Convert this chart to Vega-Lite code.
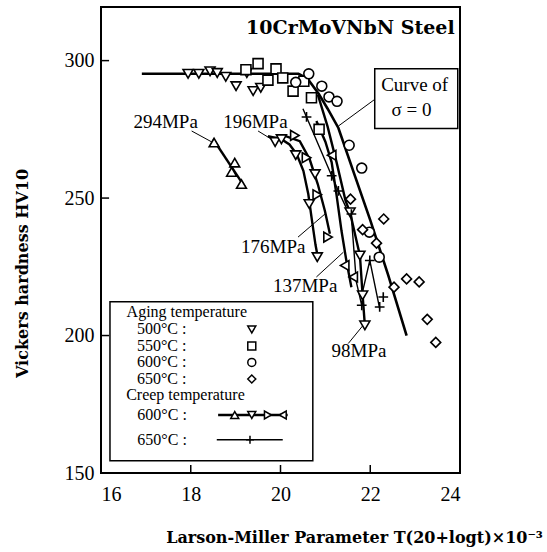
{
  "$schema": "https://vega.github.io/schema/vega-lite/v6.json",
  "width": 359,
  "height": 466,
  "autosize": {"type": "none"},
  "padding": {"left": 101, "top": 7, "right": 87, "bottom": 79},
  "background": "white",
  "config": {
    "view": {"stroke": "black", "strokeWidth": 2},
    "text": {"font": "Liberation Serif", "color": "black"},
    "axis": {
      "grid": false, "domain": false, "ticks": false,
      "labelFont": "Liberation Serif", "labelFontSize": 20, "labelColor": "black",
      "titleFont": "DejaVu Serif", "titleFontWeight": "bold", "titleFontSize": 16, "titleColor": "black"
    }
  },
  "datasets": {
    "boxes": [
      {"x": 16.2, "y": 212.3, "x2": 20.72, "y2": 154.5},
      {"x": 22.10, "y": 297.0, "x2": 23.95, "y2": 275.3}
    ],
    "ticks": [
      {"x": 18, "y": 150, "x2": 18, "y2": 152.9},
      {"x": 20, "y": 150, "x2": 20, "y2": 152.9},
      {"x": 22, "y": 150, "x2": 22, "y2": 152.9},
      {"x": 16, "y": 200, "x2": 16.18, "y2": 200},
      {"x": 16, "y": 250, "x2": 16.18, "y2": 250},
      {"x": 16, "y": 300, "x2": 16.18, "y2": 300}
    ],
    "arrows": [
      {"x": 18.02, "y": 274.4, "x2": 18.47, "y2": 270.4},
      {"x": 19.50, "y": 274.4, "x2": 19.86, "y2": 270.8},
      {"x": 20.39, "y": 235.8, "x2": 20.99, "y2": 244.2},
      {"x": 20.80, "y": 221.3, "x2": 21.40, "y2": 230.3},
      {"x": 21.51, "y": 197.1, "x2": 21.84, "y2": 203.7},
      {"x": 22.10, "y": 285.9, "x2": 21.29, "y2": 276.2}
    ],
    "lines": [
      {"id": "zero", "kind": "z", "o": 1, "x": 16.91, "y": 295.2},
      {"id": "zero", "kind": "z", "o": 2, "x": 20.40, "y": 295.2},
      {"id": "zero", "kind": "z", "o": 3, "x": 20.60, "y": 293.5},
      {"id": "zero", "kind": "z", "o": 4, "x": 20.85, "y": 288.0},
      {"id": "zero", "kind": "z", "o": 5, "x": 21.05, "y": 282.5},
      {"id": "zero", "kind": "z", "o": 6, "x": 21.29, "y": 275.5},
      {"id": "zero", "kind": "z", "o": 7, "x": 21.66, "y": 258.0},
      {"id": "zero", "kind": "z", "o": 8, "x": 22.00, "y": 242.0},
      {"id": "zero", "kind": "z", "o": 9, "x": 22.40, "y": 222.0},
      {"id": "zero", "kind": "z", "o": 10, "x": 22.81, "y": 200.0},
      {"id": "c294", "kind": "c600", "o": 1, "x": 18.50, "y": 271.4},
      {"id": "c294", "kind": "c600", "o": 2, "x": 19.21, "y": 253.9},
      {"id": "c196", "kind": "c600", "o": 1, "x": 19.72, "y": 272.5},
      {"id": "c196", "kind": "c600", "o": 2, "x": 20.02, "y": 271.4},
      {"id": "c196", "kind": "c600", "o": 3, "x": 20.20, "y": 269.5},
      {"id": "c196", "kind": "c600", "o": 4, "x": 20.36, "y": 266.0},
      {"id": "c196", "kind": "c600", "o": 5, "x": 20.51, "y": 259.9},
      {"id": "c196", "kind": "c600", "o": 6, "x": 20.62, "y": 251.4},
      {"id": "c196", "kind": "c600", "o": 7, "x": 20.70, "y": 242.0},
      {"id": "c196", "kind": "c600", "o": 8, "x": 20.78, "y": 233.0},
      {"id": "c196", "kind": "c600", "o": 9, "x": 20.82, "y": 229.5},
      {"id": "c176", "kind": "c600", "o": 1, "x": 20.10, "y": 272.6},
      {"id": "c176", "kind": "c600", "o": 2, "x": 20.43, "y": 270.7},
      {"id": "c176", "kind": "c600", "o": 3, "x": 20.65, "y": 264.1},
      {"id": "c176", "kind": "c600", "o": 4, "x": 20.83, "y": 255.1},
      {"id": "c176", "kind": "c600", "o": 5, "x": 20.99, "y": 245.3},
      {"id": "c176", "kind": "c600", "o": 6, "x": 21.10, "y": 237.0},
      {"id": "c137", "kind": "c600", "o": 1, "x": 20.80, "y": 278.0},
      {"id": "c137", "kind": "c600", "o": 2, "x": 21.00, "y": 270.5},
      {"id": "c137", "kind": "c600", "o": 3, "x": 21.14, "y": 263.0},
      {"id": "c137", "kind": "c600", "o": 4, "x": 21.25, "y": 251.0},
      {"id": "c137", "kind": "c600", "o": 5, "x": 21.36, "y": 238.0},
      {"id": "c137", "kind": "c600", "o": 6, "x": 21.47, "y": 227.0},
      {"id": "c137", "kind": "c600", "o": 7, "x": 21.58, "y": 217.6},
      {"id": "c98", "kind": "c600", "o": 1, "x": 20.83, "y": 287.7},
      {"id": "c98", "kind": "c600", "o": 2, "x": 21.05, "y": 276.0},
      {"id": "c98", "kind": "c600", "o": 3, "x": 21.25, "y": 263.0},
      {"id": "c98", "kind": "c600", "o": 4, "x": 21.45, "y": 249.0},
      {"id": "c98", "kind": "c600", "o": 5, "x": 21.55, "y": 244.8},
      {"id": "c98", "kind": "c600", "o": 6, "x": 21.70, "y": 234.0},
      {"id": "c98", "kind": "c600", "o": 7, "x": 21.77, "y": 229.1},
      {"id": "c98", "kind": "c600", "o": 8, "x": 21.83, "y": 214.6},
      {"id": "c98", "kind": "c600", "o": 9, "x": 21.88, "y": 203.7},
      {"id": "p137", "kind": "c650", "o": 1, "x": 20.50, "y": 282.5},
      {"id": "p137", "kind": "c650", "o": 2, "x": 20.58, "y": 279.5},
      {"id": "p137", "kind": "c650", "o": 3, "x": 21.14, "y": 258.1},
      {"id": "p137", "kind": "c650", "o": 4, "x": 21.29, "y": 252.6},
      {"id": "p137", "kind": "c650", "o": 5, "x": 21.45, "y": 247.0},
      {"id": "p137", "kind": "c650", "o": 6, "x": 21.58, "y": 243.0},
      {"id": "p137", "kind": "c650", "o": 7, "x": 21.69, "y": 219.5},
      {"id": "p137", "kind": "c650", "o": 8, "x": 21.81, "y": 211.0},
      {"id": "p98", "kind": "c650", "o": 1, "x": 21.81, "y": 214.6},
      {"id": "p98", "kind": "c650", "o": 2, "x": 21.99, "y": 227.3},
      {"id": "p98", "kind": "c650", "o": 3, "x": 22.21, "y": 209.8},
      {"id": "leg600", "kind": "c600", "o": 1, "x": 18.61, "y": 171.1},
      {"id": "leg600", "kind": "c600", "o": 2, "x": 20.16, "y": 171.1},
      {"id": "leg650", "kind": "c650", "o": 1, "x": 18.58, "y": 162.1},
      {"id": "leg650", "kind": "c650", "o": 2, "x": 20.05, "y": 162.1}
    ],
    "points": [
      {"g": "tdown", "x": 17.94, "y": 295.2}, {"g": "tdown", "x": 18.18, "y": 295.2},
      {"g": "tdown", "x": 18.43, "y": 296.1}, {"g": "tdown", "x": 18.59, "y": 295.5},
      {"g": "tdown", "x": 18.78, "y": 294.1}, {"g": "tdown", "x": 19.01, "y": 290.7},
      {"g": "tdown", "x": 19.25, "y": 295.5}, {"g": "tdown", "x": 19.39, "y": 288.9},
      {"g": "tdown", "x": 19.56, "y": 290.1},
      {"g": "tdown", "x": 19.88, "y": 270.4}, {"g": "tdown", "x": 20.02, "y": 271.4},
      {"g": "tdown", "x": 20.34, "y": 265.6}, {"g": "tdown", "x": 20.77, "y": 258.7},
      {"g": "tdown", "x": 20.64, "y": 247.8}, {"g": "tdown", "x": 20.82, "y": 228.5},
      {"g": "tdown", "x": 21.55, "y": 244.8}, {"g": "tdown", "x": 21.77, "y": 229.1},
      {"g": "tdown", "x": 21.83, "y": 214.6}, {"g": "tdown", "x": 21.88, "y": 203.7},
      {"g": "square", "x": 19.23, "y": 296.7}, {"g": "square", "x": 19.50, "y": 298.9},
      {"g": "square", "x": 19.90, "y": 297.0}, {"g": "square", "x": 19.72, "y": 292.9},
      {"g": "square", "x": 20.05, "y": 293.7}, {"g": "square", "x": 20.28, "y": 288.9},
      {"g": "square", "x": 20.52, "y": 292.5}, {"g": "square", "x": 20.69, "y": 286.5},
      {"g": "square", "x": 20.86, "y": 275.0},
      {"g": "circle", "x": 20.63, "y": 295.2}, {"g": "circle", "x": 20.34, "y": 292.1},
      {"g": "circle", "x": 20.92, "y": 290.7}, {"g": "circle", "x": 21.08, "y": 286.8},
      {"g": "circle", "x": 21.26, "y": 285.2}, {"g": "circle", "x": 21.53, "y": 269.2},
      {"g": "circle", "x": 21.81, "y": 260.9}, {"g": "circle", "x": 21.98, "y": 237.6},
      {"g": "circle", "x": 22.20, "y": 228.5},
      {"g": "diamond", "x": 21.56, "y": 249.6}, {"g": "diamond", "x": 22.30, "y": 242.4},
      {"g": "diamond", "x": 21.83, "y": 238.5}, {"g": "diamond", "x": 22.14, "y": 233.6},
      {"g": "diamond", "x": 22.53, "y": 217.6}, {"g": "diamond", "x": 22.81, "y": 220.6},
      {"g": "diamond", "x": 23.09, "y": 219.5}, {"g": "diamond", "x": 23.27, "y": 205.9},
      {"g": "diamond", "x": 23.46, "y": 197.5},
      {"g": "tup", "x": 18.52, "y": 270.2}, {"g": "tup", "x": 18.98, "y": 262.9},
      {"g": "tup", "x": 18.91, "y": 259.5}, {"g": "tup", "x": 19.13, "y": 255.1},
      {"g": "tright", "x": 20.32, "y": 272.8}, {"g": "tright", "x": 20.58, "y": 264.7},
      {"g": "tright", "x": 20.82, "y": 251.2}, {"g": "tright", "x": 21.06, "y": 235.8},
      {"g": "tleft", "x": 21.14, "y": 265.6}, {"g": "tleft", "x": 21.43, "y": 225.5},
      {"g": "tleft", "x": 21.62, "y": 221.3},
      {"g": "plus", "x": 20.58, "y": 279.5}, {"g": "plus", "x": 21.14, "y": 258.1},
      {"g": "plus", "x": 21.29, "y": 252.6}, {"g": "plus", "x": 21.58, "y": 244.2},
      {"g": "plus", "x": 21.81, "y": 211.0}, {"g": "plus", "x": 21.99, "y": 227.3},
      {"g": "plus", "x": 22.29, "y": 214.0}, {"g": "plus", "x": 22.21, "y": 210.4}
    ],
    "legendPoints": [
      {"g": "tdown", "x": 19.36, "y": 202.2},
      {"g": "square", "x": 19.36, "y": 196.2},
      {"g": "circle", "x": 19.36, "y": 190.2},
      {"g": "diamond", "x": 19.36, "y": 184.2},
      {"g": "tup", "x": 18.98, "y": 171.1},
      {"g": "tdown", "x": 19.36, "y": 171.1},
      {"g": "tright", "x": 19.72, "y": 171.1},
      {"g": "tleft", "x": 20.05, "y": 171.1},
      {"g": "plus", "x": 19.32, "y": 162.1}
    ],
    "legendText": [
      {"t": "Aging temperature", "x": 16.57, "y": 208.7},
      {"t": "500°C :", "x": 16.80, "y": 202.2},
      {"t": "550°C :", "x": 16.80, "y": 196.2},
      {"t": "600°C :", "x": 16.80, "y": 190.2},
      {"t": "650°C :", "x": 16.80, "y": 184.2},
      {"t": "Creep temperature", "x": 16.56, "y": 178.3},
      {"t": "600°C :", "x": 16.81, "y": 171.1},
      {"t": "650°C :", "x": 16.81, "y": 162.1}
    ],
    "labels": [
      {"t": "294MPa", "x": 17.44, "y": 277.5},
      {"t": "196MPa", "x": 19.44, "y": 277.5},
      {"t": "176MPa", "x": 19.84, "y": 232.2},
      {"t": "137MPa", "x": 20.55, "y": 218.1},
      {"t": "98MPa", "x": 21.75, "y": 194.2},
      {"t": "Curve of", "x": 22.99, "y": 291.3},
      {"t": "σ = 0", "x": 22.92, "y": 282.2}
    ],
    "title": [
      {"t": "10CrMoVNbN Steel", "x": 23.88, "y": 312}
    ]
  },
  "encoding": {
    "x": {
      "field": "x", "type": "quantitative",
      "scale": {"domain": [16, 24], "nice": false, "zero": false},
      "axis": {"values": [16, 18, 20, 22, 24], "labelPadding": 11,
        "title": "Larson-Miller Parameter T(20+logt)×10⁻³",
        "titleX": 253, "titleY": 64, "titleAlign": "center", "titleBaseline": "middle"}
    },
    "y": {
      "field": "y", "type": "quantitative",
      "scale": {"domain": [150, 319.5], "nice": false, "zero": false},
      "axis": {"values": [150, 200, 250, 300], "labelPadding": 7,
        "title": "Vickers hardness  HV10",
        "titleX": -79, "titleY": 266, "titleAngle": -90, "titleAlign": "center", "titleBaseline": "middle"}
    }
  },
  "layer": [
    {
      "data": {"name": "boxes"},
      "mark": {"type": "rect", "fill": "white", "stroke": "black", "strokeWidth": 1.5},
      "encoding": {"x2": {"field": "x2"}, "y2": {"field": "y2"}}
    },
    {
      "data": {"name": "ticks"},
      "mark": {"type": "rule", "color": "black", "strokeWidth": 1.5},
      "encoding": {"x2": {"field": "x2"}, "y2": {"field": "y2"}}
    },
    {
      "data": {"name": "arrows"},
      "mark": {"type": "rule", "color": "black", "strokeWidth": 1},
      "encoding": {"x2": {"field": "x2"}, "y2": {"field": "y2"}}
    },
    {
      "data": {"name": "lines"},
      "mark": {"type": "line", "color": "black"},
      "encoding": {
        "detail": {"field": "id"},
        "order": {"field": "o", "type": "quantitative"},
        "strokeWidth": {"field": "kind", "type": "nominal",
          "scale": {"type": "ordinal", "domain": ["z", "c600", "c650"], "range": [2.6, 2.4, 1.4]},
          "legend": null}
      }
    },
    {
      "data": {"name": "points"},
      "mark": {"type": "point", "filled": true, "fill": "white", "stroke": "black", "strokeWidth": 1.6, "opacity": 1},
      "encoding": {
        "shape": {"field": "g", "type": "nominal",
          "scale": {"domain": ["tdown", "square", "circle", "diamond", "tup", "tright", "tleft", "plus"],
            "range": ["triangle-down", "square", "circle", "diamond", "triangle-up", "triangle-right", "triangle-left", "M-1,0H1M0,-1V1"]},
          "legend": null},
        "size": {"field": "g", "type": "nominal",
          "scale": {"domain": ["tdown", "square", "circle", "diamond", "tup", "tright", "tleft", "plus"],
            "range": [100, 95, 80, 120, 100, 100, 100, 170]},
          "legend": null}
      }
    },
    {
      "data": {"name": "legendPoints"},
      "mark": {"type": "point", "filled": true, "fill": "white", "stroke": "black", "strokeWidth": 1.5, "opacity": 1, "size": 64},
      "encoding": {
        "shape": {"field": "g", "type": "nominal", "legend": null}
      }
    },
    {
      "data": {"name": "legendText"},
      "mark": {"type": "text", "align": "left", "baseline": "middle", "fontSize": 16, "font": "Liberation Serif"},
      "encoding": {"text": {"field": "t"}}
    },
    {
      "data": {"name": "labels"},
      "mark": {"type": "text", "align": "center", "baseline": "middle", "fontSize": 19, "font": "Liberation Serif"},
      "encoding": {"text": {"field": "t"}}
    },
    {
      "data": {"name": "title"},
      "mark": {"type": "text", "align": "right", "baseline": "middle", "fontSize": 19, "fontWeight": "bold", "font": "DejaVu Serif"},
      "encoding": {"text": {"field": "t"}}
    }
  ]
}
